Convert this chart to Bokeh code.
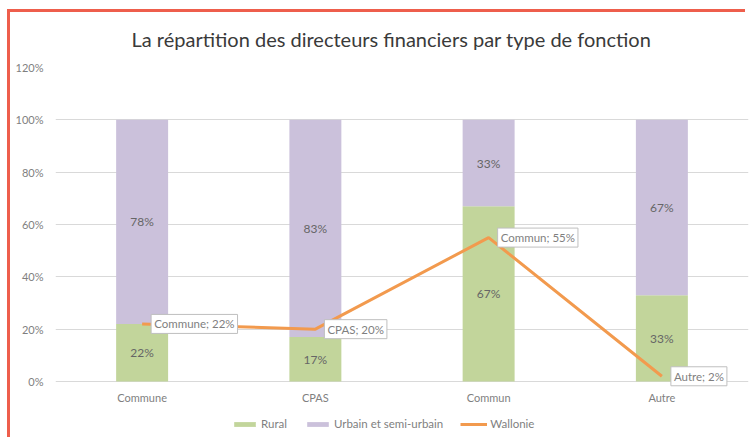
from bokeh.plotting import figure
from bokeh.models import (ColumnDataSource, Range1d, NumeralTickFormatter, InlineStyleSheet,
                          LabelSet, Label, Legend, LegendItem, FixedTicker)
from bokeh.core.properties import value
from bokeh.embed import file_html
from bokeh.resources import INLINE

categories = ["Commune", "CPAS", "Commun", "Autre"]
rural = [0.22, 0.17, 0.67, 0.33]
urbain = [0.78, 0.83, 0.33, 0.67]
wallonie = [0.22, 0.20, 0.55, 0.02]
y_ticks = [0, 0.2, 0.4, 0.6, 0.8, 1.0, 1.2]
series_names = ["Rural", "Urbain et semi-urbain", "Wallonie"]
title_text = "La répartition des directeurs financiers par type de fonction"

GREEN = "#C2D59B"
PURPLE = "#CBC1DB"
ORANGE = "#F29A4E"
GRID = "#D9D9D9"
TXT = "#7F7F7F"
RED = "#EE5E4C"
FONT = "Lato"

xpos = [i + 0.5 for i in range(len(categories))]
src = ColumnDataSource(dict(
    x=xpos, cat=categories, zero=[0] * len(categories),
    rural=rural, urbain=urbain, wallonie=wallonie,
    rural_mid=[r / 2 for r in rural],
    urbain_mid=[r + u / 2 for r, u in zip(rural, urbain)],
    rural_lbl=[f"{v:.0%}" for v in rural],
    urbain_lbl=[f"{v:.0%}" for v in urbain],
))

W, H = 751, 441
# plot frame: 0% .. 120% occupies 314 px; extra 60 px below 0 hold category names and legend
px_per_unit = 314 / 1.2
p = figure(x_range=Range1d(0, len(categories)), y_range=Range1d(-60 / px_per_unit, 1.2),
           width=W, height=H, output_backend="svg", toolbar_location=None,
           min_border_left=55, min_border_right=3, min_border_top=67, min_border_bottom=0)
p.title.text = title_text
p.title.align = "left"
p.title.offset = 76
p.title.text_font = FONT
p.title.text_font_style = "normal"
p.title.text_font_size = "20px"
p.title.text_color = "#3A3A3A"
p.title.standoff = 33
p.outline_line_color = None
p.background_fill_color = "white"
p.border_fill_color = "white"
p.stylesheets = [InlineStyleSheet(css=f"""
:host::before {{ content: ""; position: absolute; left: 7px; top: 9px; width: 3px;
  height: 428px; background: {RED}; z-index: 10; pointer-events: none; }}
:host::after {{ content: ""; position: absolute; left: 7px; top: 9px; width: 738px;
  height: 3px; background: {RED}; z-index: 10; pointer-events: none; }}
""")]

p.xgrid.grid_line_color = None
p.ygrid.grid_line_color = GRID
p.ygrid.ticker = FixedTicker(ticks=y_ticks)
p.yaxis.ticker = FixedTicker(ticks=y_ticks)
p.yaxis.formatter = NumeralTickFormatter(format="0%")
p.xaxis.visible = False
p.yaxis.axis_line_color = None
p.yaxis.major_tick_line_color = None
p.yaxis.minor_tick_line_color = None
p.yaxis.major_label_text_font = FONT
p.yaxis.major_label_text_font_size = "11px"
p.yaxis.major_label_text_color = TXT
p.yaxis.major_label_standoff = 6

bars = p.vbar_stack(["rural", "urbain"], x="x", width=0.3, source=src,
                    color=[GREEN, PURPLE], line_color=None)
ln = p.line(x="x", y="wallonie", source=src, line_color=ORANGE, line_width=3)

# category names under the bars
p.add_layout(LabelSet(x="x", y="zero", text="cat", source=src, text_align="center",
                      text_baseline="middle", y_offset=-16, text_font=value(FONT),
                      text_font_size=value("11px"), text_color=TXT))

for ycol, lcol in (("rural_mid", "rural_lbl"), ("urbain_mid", "urbain_lbl")):
    p.add_layout(LabelSet(x="x", y=ycol, text=lcol, source=src, text_align="center",
                          text_baseline="middle", text_font=value(FONT),
                          text_font_size=value("12px"), text_color="#666666"))

for xx, c, v in zip(xpos, categories, wallonie):
    p.add_layout(Label(x=xx, y=v, text=f"{c}; {v:.0%}", text_align="left",
                       text_baseline="middle", x_offset=9, text_font=FONT,
                       text_font_size="11.5px", text_color=TXT, background_fill_color="white",
                       border_line_color="#BFBFBF", border_line_width=1, padding=3))

legend = Legend(items=[LegendItem(label=series_names[0], renderers=[bars[0]]),
                       LegendItem(label=series_names[1], renderers=[bars[1]]),
                       LegendItem(label=series_names[2], renderers=[ln])],
                orientation="horizontal", location=(176, 11), border_line_color=None,
                background_fill_alpha=0, label_text_font=FONT, label_text_font_size="11.5px",
                label_text_color=TXT, glyph_width=27, glyph_height=6, spacing=17,
                label_standoff=3, padding=2, margin=0)
p.add_layout(legend, "center")

open("out.html", "w").write(file_html(p, INLINE))
